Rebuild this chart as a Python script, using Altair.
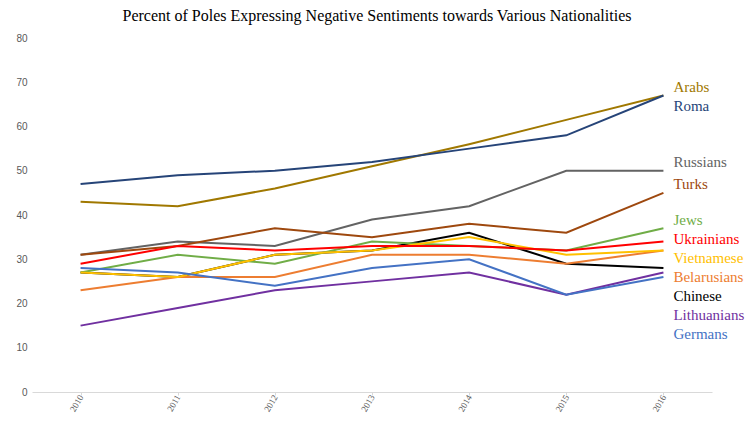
import altair as alt
import pandas as pd

years = ["2010", "2011", "2012", "2013", "2014", "2015", "2016"]

# series (top-to-bottom label order)
names = ["Arabs", "Roma", "Russians", "Turks", "Jews", "Ukrainians",
         "Vietnamese", "Belarusians", "Chinese", "Lithuanians", "Germans"]
colors = ["#A07800", "#264478", "#636363", "#9E480E", "#70AD47", "#FF0000",
          "#FFC000", "#ED7D31", "#000000", "#7030A0", "#4472C4"]

arabs = [43, 42, 46, 51, 56, 61.5, 67]
roma = [47, 49, 50, 52, 55, 58, 67]
russians = [31, 34, 33, 39, 42, 50, 50]
turks = [31, 33, 37, 35, 38, 36, 45]
jews = [27, 31, 29, 34, 33, 32, 37]
ukrainians = [29, 33, 32, 33, 33, 32, 34]
vietnamese = [27, 26, 31, 32, 35, 31, 32]
belarusians = [23, 26, 26, 31, 31, 29, 32]
chinese = [27, 26, 31, 32, 36, 29, 28]
lithuanians = [15, 19, 23, 25, 27, 22, 27]
germans = [28, 27, 24, 28, 30, 22, 26]

series = {
    "Arabs": arabs, "Roma": roma, "Russians": russians, "Turks": turks,
    "Jews": jews, "Ukrainians": ukrainians, "Vietnamese": vietnamese,
    "Belarusians": belarusians, "Chinese": chinese,
    "Lithuanians": lithuanians, "Germans": germans,
}

# drawing order (first drawn at bottom)
draw_order = ["Arabs", "Roma", "Russians", "Turks", "Chinese", "Jews",
              "Belarusians", "Vietnamese", "Lithuanians", "Germans", "Ukrainians"]

rows = []
for n in draw_order:
    for yr, v in zip(years, series[n]):
        rows.append({"series": n, "year": yr, "value": v})
df = pd.DataFrame(rows)

# end labels, spread out so they do not overlap
lab_rows = []
prev = None
for n in names:
    end = series[n][-1]
    ly = end + 1.9
    if prev is not None:
        ly = min(ly, prev - 4.3)
    prev = ly
    lab_rows.append({"series": n, "year": years[-1], "ly": ly})
labels_df = pd.DataFrame(lab_rows)

x_enc = alt.X(
    "year:O",
    sort=years,
    scale=alt.Scale(type="point", padding=0.5),
    axis=alt.Axis(
        title=None, labelAngle=-60, labelFont="Liberation Serif", labelFontSize=9,
        labelColor="#595959", domainColor="#D9D9D9", tickColor="#D9D9D9",
        tickSize=3, grid=False, labelPadding=0,
    ),
)
color_enc = alt.Color("series:N", scale=alt.Scale(domain=names, range=colors), legend=None)

lines = alt.Chart(df).mark_line(strokeWidth=2).encode(
    x=x_enc,
    y=alt.Y(
        "value:Q",
        scale=alt.Scale(domain=[0, 80], nice=False),
        axis=alt.Axis(
            title=None, values=list(range(0, 81, 10)), grid=False, domain=False,
            ticks=False, labelFont="Liberation Sans", labelFontSize=10,
            labelColor="#595959", labelPadding=5,
        ),
    ),
    color=color_enc,
)

texts = alt.Chart(labels_df).mark_text(
    align="left", baseline="middle", dx=10, font="Liberation Serif", fontSize=15
).encode(
    x=alt.X("year:O", sort=years, scale=alt.Scale(type="point", padding=0.5)),
    y=alt.Y("ly:Q", scale=alt.Scale(domain=[0, 80], nice=False)),
    text="series:N",
    color=color_enc,
)

chart = (
    alt.layer(lines, texts)
    .properties(
        width=680,
        height=354,
        title=alt.TitleParams(
            "Percent of Poles Expressing Negative Sentiments towards Various Nationalities",
            font="Liberation Serif", fontSize=16, fontWeight="normal", color="#000000",
            anchor="middle", offset=9, dx=5,
        ),
        autosize=alt.AutoSizeParams(type="none"),
        padding={"left": 24, "top": 30, "right": 36, "bottom": 22},
        background="white",
    )
    .configure_view(stroke=None)
)

chart.save("out.html", embed_options={"renderer": "svg", "actions": False})
